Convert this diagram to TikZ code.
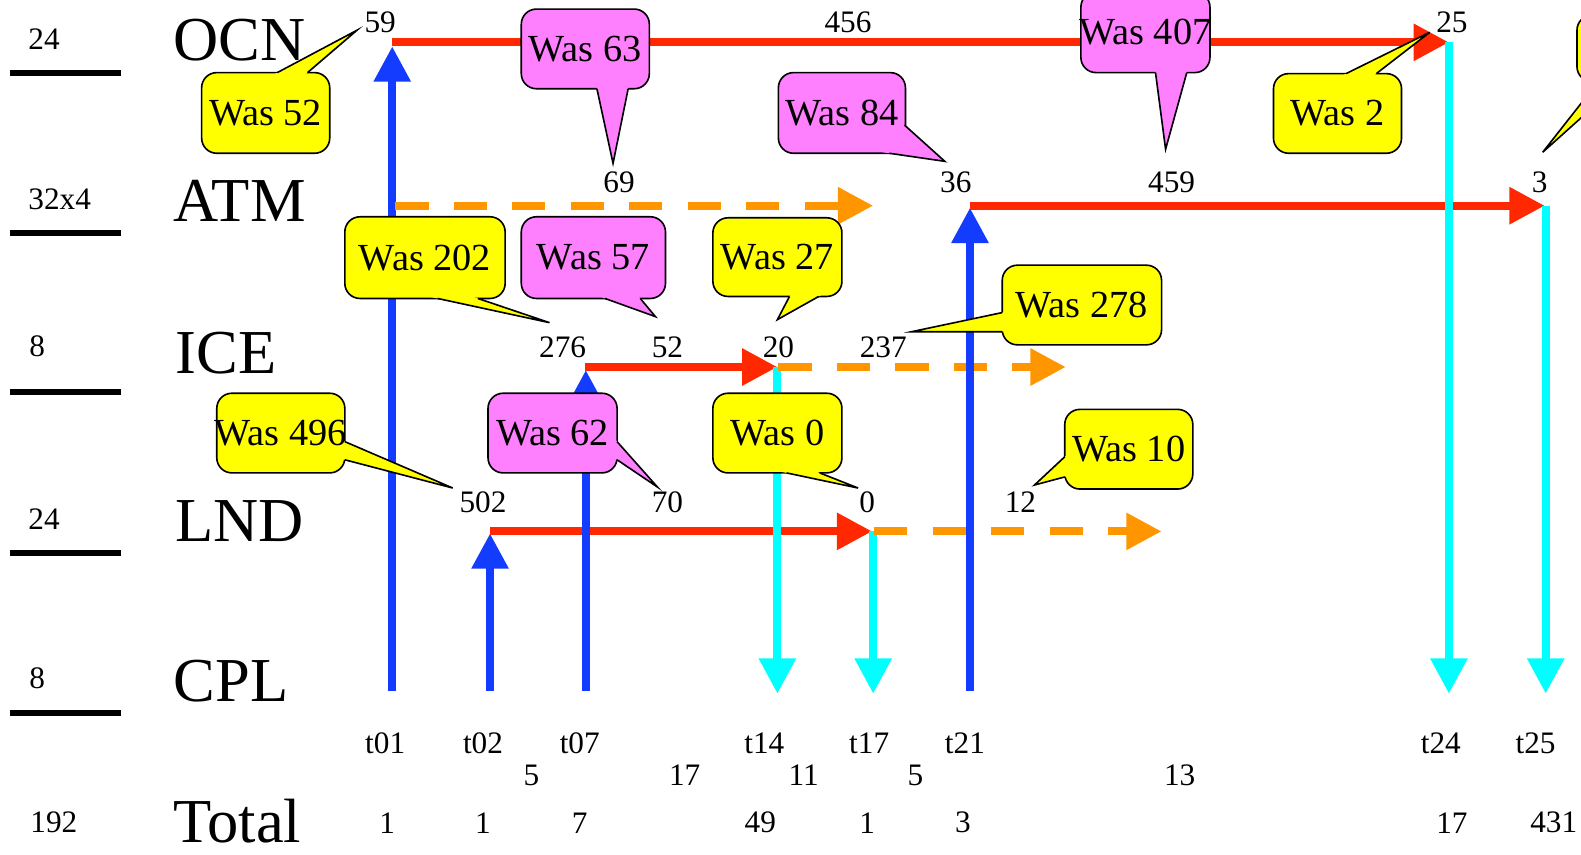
\documentclass[tikz,border=0pt]{standalone}
\usepackage{fontspec}
\setmainfont{Liberation Serif}
\usetikzlibrary{arrows.meta,calc}

\definecolor{flowred}{RGB}{255,40,0}
\definecolor{flowblue}{RGB}{20,60,255}
\definecolor{flowcyan}{RGB}{0,255,255}
\definecolor{floworange}{RGB}{255,150,0}
\definecolor{notepink}{RGB}{255,128,255}
\definecolor{noteyellow}{RGB}{255,255,0}

\tikzset{
  flow/.style={line width=8pt, -{Triangle[length=35pt,width=35pt]}},
  sendup/.style={flow, flowblue},
  recvdown/.style={flow, flowcyan},
  busy/.style={flow, flowred},
  idle/.style={flow, floworange, dash pattern=on 33pt off 25pt},
  comp/.style={font=\fontsize{62}{62}\selectfont, inner sep=0pt, anchor=base west},
  small/.style={font=\fontsize{31}{31}\selectfont, inner sep=0pt},
  smallleft/.style={small, anchor=base west},
  notebox/.style={draw=black, line width=1.6pt, rounded corners=15pt},
  noteline/.style={draw=black, line width=1.6pt, line join=miter},
  notetext/.style={font=\fontsize{38}{38}\selectfont, inner sep=0pt},
  rowline/.style={line width=6pt}
}

% callout: name, fill, corner 1, corner 2, pointer base 1, pointer base 2, tip, text
\newcommand\note[8]{%
  \draw[notebox, fill=#2] (#3) rectangle (#4);
  \fill[#2] ($(#7)!1.12!(#5)$) -- (#7) -- ($(#7)!1.12!(#6)$) -- cycle;
  \draw[noteline] (#5) -- (#7) -- (#6);
  \node[notetext] (#1) at ($(#3)!0.5!(#4)$) {#8};
}

\begin{document}
\begin{tikzpicture}[x=1pt,y=-1pt]
\useasboundingbox (0,0) rectangle (1568,847);
\fill[white] (0,0) rectangle (1568,847);
\clip (0,0) rectangle (1568,847);

% ---- row separators and processor counts
\draw[rowline] (10,72) -- (120,72);
\draw[rowline] (10,231) -- (120,231);
\draw[rowline] (10,389) -- (120,389);
\draw[rowline] (10,548) -- (120,548);
\draw[rowline] (10,707) -- (120,707);

\node[smallleft] (pOCN) at (28,49) {24};
\node[smallleft] (pATM) at (28,208) {32x4};
\node[smallleft] (pICE) at (29,354) {8};
\node[smallleft] (pLND) at (28,525) {24};
\node[smallleft] (pCPL) at (29,683) {8};
\node[smallleft] (pTOT) at (30,826) {192};

% ---- component names
\node[comp] (OCN) at (172,60) {OCN};
\node[comp] (ATM) at (172,220) {ATM};
\node[comp] (ICE) at (174,370) {ICE};
\node[comp] (LND) at (174,537) {LND};
\node[comp] (CPL) at (172,696) {CPL};
\node[comp] (TOT) at (172,836) {Total};

% ---- end points of the flows
\coordinate (b01) at (389,685);  \coordinate (o01) at (389,46);
\coordinate (o01s) at (389,42);  \coordinate (o24) at (1437,42);
\coordinate (a01) at (392,204);  \coordinate (a17) at (866,204);
\coordinate (b02) at (486,685);  \coordinate (l02) at (486,529);
\coordinate (l02s) at (486,527); \coordinate (l17) at (865,527);
\coordinate (b07) at (581,685);  \coordinate (i07) at (581,367);
\coordinate (i07s) at (580,364); \coordinate (i14) at (771,364);
\coordinate (i14s) at (772,364); \coordinate (i21) at (1057,364);
\coordinate (c14) at (771,688);
\coordinate (l17s) at (866,527); \coordinate (c17) at (866,688);
\coordinate (l17o) at (867,527); \coordinate (l24) at (1152,527);
\coordinate (b21) at (962,685);  \coordinate (a21) at (962,206);
\coordinate (a21s) at (962,204); \coordinate (a25) at (1532,204);
\coordinate (c24) at (1437,688);
\coordinate (a25s) at (1533,204); \coordinate (c25) at (1533,688);

% ---- flows, in time order
\draw[sendup] (b01) -- (o01);
\draw[busy] (o01s) -- (o24);
\draw[idle] (a01) -- (a17);
\draw[sendup] (b02) -- (l02);
\draw[busy] (l02s) -- (l17);
\draw[sendup] (b07) -- (i07);
\draw[busy] (i07s) -- (i14);
\draw[recvdown] (i14) -- (c14);
\draw[idle] (i14s) -- (i21);
\draw[recvdown] (l17s) -- (c17);
\draw[idle] (l17o) -- (l24);
\draw[sendup] (b21) -- (a21);
\draw[busy] (a21s) -- (a25);
\draw[recvdown] (o24) -- (c24);
\draw[recvdown] (a25s) -- (c25);

% ---- timings on the bars
\node[small] (v59) at (377,22) {59};
\node[small] (v456) at (841,22) {456};
\node[small] (v25) at (1440,22) {25};
\node[small] (v69) at (614,181) {69};
\node[small] (v36) at (948,181) {36};
\node[small] (v459) at (1162,181) {459};
\node[small] (v3) at (1527,181) {3};
\node[small] (v276) at (558,344) {276};
\node[small] (v52) at (662,344) {52};
\node[small] (v20) at (772,344) {20};
\node[small] (v237) at (876,344) {237};
\node[small] (v502) at (479,498) {502};
\node[small] (v70) at (662,498) {70};
\node[small] (v0) at (860,498) {0};
\node[small] (v12) at (1012,498) {12};

% ---- time stamps, intervals and totals
\node[small] (t01) at (382,737) {t01};
\node[small] (t02) at (479,737) {t02};
\node[small] (t07) at (575,737) {t07};
\node[small] (t14) at (758,737) {t14};
\node[small] (t17) at (862,737) {t17};
\node[small] (t21) at (957,737) {t21};
\node[small] (t24) at (1429,737) {t24};
\node[small] (t25) at (1523,737) {t25};

\node[small] (d1) at (527,769) {5};
\node[small] (d2) at (679,769) {17};
\node[small] (d3) at (797,769) {11};
\node[small] (d4) at (908,769) {5};
\node[small] (d5) at (1170,769) {13};

\node[small] (s01) at (384,816) {1};
\node[small] (s02) at (479,816) {1};
\node[small] (s07) at (575,816) {7};
\node[small] (s14) at (754,816) {49};
\node[small] (s17) at (860,816) {1};
\node[small] (s21) at (955,816) {3};
\node[small] (s24) at (1440,816) {17};
\node[small] (s25) at (1541,816) {431};

% ---- previous values
\note{w52}{noteyellow}{200,72}{327,152}{275,72}{305,72}{354,30}{Was 52}
\note{w63}{notepink}{517,9}{644,88}{592,88}{623,88}{608,162}{Was 63}
\note{w84}{notepink}{772,72}{898,152}{897,124}{882,152}{937,160}{Was 84}
\note{w407}{notepink}{1072,-8}{1200,72}{1146,72}{1177,72}{1156,148}{Was 407}
\note{w2}{noteyellow}{1263,73}{1390,152}{1335,73}{1365,73}{1418,32}{Was 2}
\note{wx}{noteyellow}{1564,15}{1700,81}{1585,81}{1608,81}{1530,151}{}
\note{w202}{noteyellow}{342,215}{501,296}{434,296}{474,296}{545,320}{Was 202}
\note{w57}{notepink}{517,215}{660,296}{600,296}{635,296}{650,314}{Was 57}
\note{w27}{noteyellow}{707,216}{835,294}{783,294}{812,294}{771,317}{Was 27}
\note{w278}{noteyellow}{994,263}{1152,342}{994,310}{994,329}{904,329}{Was 278}
\note{w496}{noteyellow}{215,390}{342,469}{342,438}{342,456}{449,484}{Was 496}
\note{w62}{notepink}{484,390}{612,469}{612,438}{612,456}{652,483}{Was 62}
\note{w0}{noteyellow}{707,390}{835,469}{780,469}{813,469}{851,484}{Was 0}
\note{w10}{noteyellow}{1056,406}{1183,485}{1056,453}{1056,473}{1026,481}{Was 10}

\end{tikzpicture}
\end{document}
